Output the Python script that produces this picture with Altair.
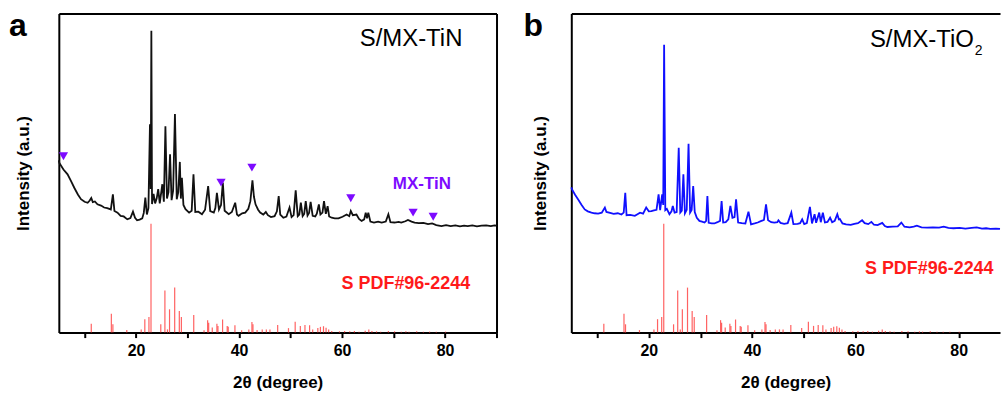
import altair as alt
import pandas as pd

# ---------------- data ----------------
# reference pattern: S PDF#96-2244 (stick positions, 2theta / relative height)
pdf_2theta = [11.3, 15.2, 15.5, 18.2, 21.0, 21.7, 22.5, 22.9, 24.8, 25.6, 26.1, 26.5, 27.5,
              28.4, 28.8, 31.2, 33.2, 33.9, 34.1, 34.8, 35.7, 35.9, 36.8, 37.7, 37.9, 39.2,
              40.5, 41.9, 42.5, 42.7, 43.5, 44.5, 45.3, 46.0, 47.5, 49.6, 50.9, 51.9, 52.8,
              53.7, 54.3, 55.3, 55.8, 56.4, 56.9, 57.4, 58.0, 59.5, 60.5, 61.5, 62.4, 63.3,
              64.5, 65.2, 65.8, 66.7, 67.5, 69.0, 70.2, 71.5, 72.4, 73.0, 74.5, 75.8, 77.0,
              78.3, 80.1]
pdf_int = [2.8, 5.9, 2.6, 0.8, 1.0, 4.2, 4.9, 34.1, 2.6, 13.2, 1.0, 7.3, 14.1,
           6.8, 4.9, 5.5, 0.7, 3.9, 3.1, 1.6, 2.8, 2.1, 4.1, 2.1, 1.8, 2.3,
           0.7, 1.0, 3.3, 2.6, 0.8, 1.0, 1.0, 1.0, 2.4, 1.4, 3.4, 2.1, 2.4,
           2.3, 1.0, 1.4, 1.8, 2.0, 1.5, 1.0, 0.5, 0.4, 0.5, 0.4, 0.5, 0.3,
           0.6, 1.0, 0.5, 0.4, 0.3, 0.5, 0.4, 0.3, 0.4, 0.3, 0.4, 0.3, 0.3,
           0.3, 0.3]

# S/MX-TiN measured pattern
tin_2theta = [5.0, 5.1, 5.9, 6.7, 7.4, 8.0, 8.7, 9.3, 10.0, 10.6, 11.0, 11.3, 11.6, 12.0, 12.5,
              13.2, 13.8, 14.4, 15.1, 15.5, 15.8, 16.4, 17.0, 17.6, 18.3, 18.9, 19.4, 19.8,
              20.2, 20.7, 21.2, 21.5, 21.8, 22.1, 22.4, 22.7, 22.85, 22.97, 23.1, 23.4, 23.7,
              24.0, 24.3, 24.6, 25.1, 25.4, 25.7, 26.0, 26.3, 26.6, 26.9, 27.2, 27.55, 27.9,
              28.2, 28.5, 28.7, 28.9, 29.2, 29.6, 30.3, 30.8, 31.15, 31.5, 32.1, 32.8, 33.4,
              34.0, 34.4, 35.1, 35.4, 35.7, 36.1, 36.5, 36.85, 37.2, 38.0, 38.6, 39.25, 39.6,
              39.9, 40.6, 41.2, 41.8, 42.2, 42.6, 42.9, 43.2, 43.7, 44.1, 44.7, 45.2, 45.6,
              46.2, 46.9, 47.35, 47.7, 48.0, 48.6, 49.2, 49.8, 50.2, 50.6, 51.0, 51.4, 51.7,
              52.0, 52.35, 52.65, 52.95, 53.3, 53.6, 53.9, 54.3, 54.8, 55.1, 55.5, 55.8, 56.2,
              56.5, 56.85, 57.2, 57.5, 58.0, 58.6, 59.3, 60.1, 60.9, 61.4, 61.7, 62.1, 62.8,
              63.3, 63.8, 64.3, 64.6, 64.85, 65.1, 65.5, 66.2, 67.0, 67.7, 68.5, 69.0, 69.4,
              70.2, 71.0, 71.5, 72.3, 72.8, 73.5, 74.1, 74.9, 75.8, 76.7, 77.5, 78.3, 79.3,
              80.2, 81.1, 82.0, 82.9, 83.7, 84.4, 85.3, 86.2, 87.1, 88.0, 88.9, 89.6, 90.0]
tin_int = [54.0, 53.2, 51.1, 49.6, 47.4, 45.4, 43.3, 41.8, 41.0, 40.7, 41.4, 42.2, 40.9, 41.1, 40.2,
           39.8, 39.2, 39.0, 38.6, 43.3, 38.1, 37.6, 36.6, 36.4, 35.5, 35.9, 37.9, 36.0,
           35.2, 35.4, 35.8, 37.5, 42.3, 37.0, 39.0, 65.3, 45.0, 94.6, 40.3, 43.5, 40.5,
           42.0, 45.0, 40.5, 46.5, 41.0, 64.7, 42.0, 44.0, 55.9, 41.5, 44.5, 68.5, 41.8,
           44.0, 53.5, 42.0, 48.5, 40.0, 38.7, 37.6, 38.2, 49.6, 37.8, 37.9, 37.1, 38.5,
           45.9, 38.1, 37.6, 39.0, 43.8, 38.6, 40.0, 47.0, 38.2, 37.1, 37.8, 40.7, 37.0,
           36.6, 37.4, 37.6, 38.8, 41.2, 47.7, 42.5, 40.2, 38.5, 37.6, 37.0, 37.8, 36.8,
           36.2, 36.5, 38.0, 42.8, 37.0, 36.0, 36.4, 39.2, 36.2, 36.8, 44.6, 36.5, 37.0,
           40.7, 36.5, 37.2, 41.2, 36.7, 37.5, 41.0, 36.6, 36.4, 37.3, 40.2, 37.0, 37.6,
           41.2, 37.2, 39.6, 36.4, 36.0, 35.8, 35.8, 36.3, 37.0, 36.5, 38.1, 36.8, 37.0,
           35.6, 35.0, 35.5, 37.6, 35.8, 37.6, 34.8, 34.5, 34.8, 34.5, 34.8, 37.1, 34.6,
           34.5, 34.7, 34.5, 34.9, 35.3, 34.8, 34.5, 34.3, 34.4, 34.0, 34.2, 33.7, 33.4,
           33.7, 33.4, 33.6, 33.3, 33.5, 33.4, 33.6, 33.3, 33.5, 33.6, 33.4, 33.6, 33.5]

# MX-TiN markers
tin_mark_2theta = [5.9, 36.5, 42.5, 61.7, 73.8, 77.7]
tin_mark_int = [55.3, 47.0, 51.7, 42.1, 37.6, 36.3]

# S/MX-TiO2 measured pattern
tio2_2theta = [5.0, 5.15, 5.7, 6.3, 7.0, 7.6, 8.2, 8.9, 9.5, 10.2, 10.9, 11.5, 11.8, 12.5, 13.2,
               14.0, 14.7, 15.15, 15.45, 15.7, 16.4, 17.3, 17.9, 18.3, 18.9, 19.5, 20.0, 20.5,
               21.0, 21.5, 21.9, 22.2, 22.6, 22.8, 22.97, 23.2, 23.5, 24.0, 24.4, 24.65, 25.0,
               25.4, 25.8, 26.1, 26.4, 26.7, 27.0, 27.35, 27.7, 28.0, 28.3, 28.6, 28.9, 29.3,
               29.8, 30.3, 30.8, 31.1, 31.35, 31.6, 32.2, 32.7, 33.3, 33.8, 34.1, 34.4, 34.9,
               35.4, 35.8, 36.2, 36.6, 36.9, 37.3, 38.0, 38.7, 39.3, 39.8, 40.5, 41.1, 41.8,
               42.3, 42.7, 43.1, 43.7, 44.3, 44.9, 45.1, 45.5, 46.2, 46.9, 47.6, 48.0, 48.8,
               49.3, 49.7, 50.1, 50.6, 51.2, 51.6, 52.1, 52.4, 53.0, 53.3, 53.7, 54.1, 54.6,
               55.1, 55.5, 56.0, 56.5, 56.8, 57.0, 57.5, 58.2, 59.1, 59.8, 60.5, 61.3, 61.8,
               62.5, 63.1, 63.6, 64.3, 65.2, 65.7, 66.2, 67.2, 68.2, 68.9, 69.5, 70.5, 71.3,
               71.9, 72.8, 73.9, 75.0, 76.2, 77.1, 78.0, 79.0, 80.2, 81.3, 82.5, 83.5, 84.5,
               85.3, 86.1, 87.2, 88.0]
tio2_int = [45.5, 44.9, 43.3, 41.8, 40.0, 38.6, 38.0, 37.6, 37.4, 37.3, 37.6, 39.2, 37.8, 37.5, 37.2,
            37.4, 37.0, 37.6, 43.8, 36.8, 36.9, 36.6, 37.2, 37.6, 37.3, 39.2, 38.0, 38.1,
            38.3, 38.5, 43.3, 38.4, 43.3, 40.0, 90.2, 38.4, 38.8, 37.1, 38.0, 39.7, 37.6,
            37.8, 57.9, 37.6, 38.2, 49.6, 37.4, 38.5, 59.2, 37.6, 38.4, 45.9, 37.8, 36.0,
            35.0, 34.8, 34.5, 35.0, 42.8, 34.4, 34.2, 34.2, 34.6, 35.0, 41.2, 34.5, 34.6,
            35.5, 39.7, 36.0, 36.2, 41.8, 34.5, 34.3, 34.2, 37.9, 33.9, 34.2, 34.5, 35.0,
            35.3, 40.2, 35.2, 34.6, 34.5, 34.6, 35.2, 34.4, 34.1, 34.3, 37.6, 34.0, 34.1,
            34.3, 35.5, 34.0, 34.3, 39.4, 34.2, 37.1, 34.4, 37.6, 34.6, 37.6, 34.5, 34.7,
            36.0, 34.6, 35.0, 37.1, 35.5, 35.6, 34.2, 33.9, 33.75, 34.1, 34.3, 35.2, 34.3,
            34.0, 34.7, 33.8, 33.7, 34.4, 33.4, 33.1, 33.2, 33.3, 34.5, 33.2, 33.0, 33.2,
            33.5, 33.0, 32.9, 33.0, 32.9, 33.2, 32.8, 32.7, 32.8, 32.6, 32.8, 33.0, 32.6,
            32.7, 32.5, 32.6, 32.5]

x_ticks = [10, 20, 30, 40, 50, 60, 70, 80, 90]

# ---------------- styling ----------------
FONT = "Liberation Sans"
RED_STICK = "#ff3b3b"
RED_TEXT = "#ff1a1a"
PURPLE = "#7d0aff"

pdf_df = pd.DataFrame({"t": pdf_2theta, "v": pdf_int})
tin_df = pd.DataFrame({"t": tin_2theta, "v": tin_int})
tio2_df = pd.DataFrame({"t": tio2_2theta, "v": tio2_int})
mark_df = pd.DataFrame({"t": tin_mark_2theta, "v": tin_mark_int})
one = pd.DataFrame({"d": [0]})

sy = alt.Scale(domain=[0, 100], nice=False, zero=False)


def bottom_axis():
    return alt.Axis(orient="bottom", values=x_ticks,
                    labelExpr="datum.value % 20 == 0 ? datum.label : ''",
                    tickSize=5, tickWidth=2, tickColor="black",
                    domainWidth=2, domainColor="black", grid=False,
                    labelFont=FONT, labelFontWeight="bold", labelFontSize=16,
                    labelColor="black", labelPadding=5, labelFlush=False, labelOverlap=False,
                    title="2θ (degree)", titleFont=FONT, titleFontSize=17,
                    titleFontWeight="bold", titleColor="black", titlePadding=16)


def left_axis(pad):
    return alt.Axis(orient="left", labels=False, ticks=False, grid=False,
                    domainWidth=2, domainColor="black",
                    title="Intensity (a.u.)", titleFont=FONT, titleFontSize=17,
                    titleFontWeight="bold", titleColor="black", titlePadding=pad)


def frame_axis(orient):
    return alt.Axis(orient=orient, labels=False, ticks=False, grid=False, title=None,
                    domainWidth=2, domainColor="black")


def panel(line_df, line_color, xdom, width, letter, ypad, right_frame, texts, markers):
    sx = alt.Scale(domain=xdom, nice=False, zero=False)
    sticks = alt.Chart(pdf_df).mark_rule(color=RED_STICK, strokeWidth=1.2, opacity=0.8).encode(
        x=alt.X("t:Q", scale=sx, axis=bottom_axis()),
        y=alt.Y("v:Q", scale=sy, axis=left_axis(ypad)),
        y2=alt.datum(0),
    )
    line = alt.Chart(line_df).mark_line(color=line_color, strokeWidth=1.8,
                                        strokeJoin="miter", strokeMiterLimit=4).encode(
        x=alt.X("t:Q", scale=sx, axis=None),
        y=alt.Y("v:Q", scale=sy, axis=None),
        order="t:Q",
    )
    frame_enc = {"x": alt.X("t:Q", scale=sx, axis=frame_axis("top"))}
    if right_frame:
        frame_enc["y"] = alt.Y("v:Q", scale=sy, axis=frame_axis("right"))
    else:
        frame_enc["y"] = alt.Y("v:Q", scale=sy, axis=None)
    frame = alt.Chart(line_df).mark_point(opacity=0).encode(**frame_enc)
    layers = [sticks, line, frame]
    if markers is not None:
        layers.append(
            alt.Chart(markers).mark_point(shape="triangle-down", filled=True, size=85,
                                           color=PURPLE, opacity=1).encode(
                x=alt.X("t:Q", scale=sx, axis=None),
                y=alt.Y("v:Q", scale=sy, axis=None),
            )
        )
    for (txt, tx, ty, size, weight, color, align) in texts:
        tdf = pd.DataFrame({"t": [tx], "v": [ty], "s": [txt]})
        layers.append(
            alt.Chart(tdf).mark_text(font=FONT, fontSize=size, fontWeight=weight, color=color,
                                     align=align, baseline="middle").encode(
                x=alt.X("t:Q", scale=sx, axis=None),
                y=alt.Y("v:Q", scale=sy, axis=None),
                text="s:N",
            )
        )
    layers.append(
        alt.Chart(one).mark_text(text=letter, font=FONT, fontSize=32, fontWeight="bold",
                                 color="black", align="left", baseline="alphabetic").encode(
            x=alt.value(-50 if letter == "a" else -48), y=alt.value(23)
        )
    )
    return alt.layer(*layers).resolve_axis(x="independent", y="independent").properties(
        width=width, height=320)


pa = panel(tin_df, "#111111", [5, 90], 439, "a", 26, True,
           [("S/MX-TiN", 73.4, 92.0, 24, "normal", "black", "center"),
            ("MX-TiN", 75.5, 46.5, 17, "bold", PURPLE, "center"),
            ("S PDF#96-2244", 72.4, 15.3, 18, "bold", RED_TEXT, "center")],
           mark_df)

pb = panel(tio2_df, "#1010ff", [5, 88], 430, "b", 22, False,
           [("S/MX-TiO", 82.95, 91.6, 24, "normal", "black", "right"),
            ("2", 83.1, 88.3, 14, "normal", "black", "left"),
            ("S PDF#96-2244", 74.3, 20.0, 18, "bold", RED_TEXT, "center")],
           None)

chart = alt.hconcat(pa, pb, spacing=75, bounds="flush").properties(
    padding={"left": 9, "top": 10, "right": 0, "bottom": 0}
).configure_view(stroke=None)

chart.save("out.html", embed_options={"renderer": "svg", "actions": False})
